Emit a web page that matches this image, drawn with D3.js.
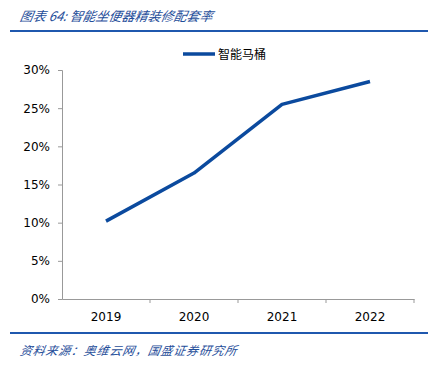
<!DOCTYPE html>
<html><head><meta charset="utf-8">
<script src="https://cdn.jsdelivr.net/npm/d3@7/dist/d3.min.js"></script>
<style>body{margin:0;background:#fff}svg{display:block}</style>
</head><body>
<svg id="c" width="438" height="368"></svg>
<script>
const categories = ["2019", "2020", "2021", "2022"];
const seriesName = "智能马桶";
const values = [0.102, 0.165, 0.255, 0.285];
const yTicks = [0, 0.05, 0.10, 0.15, 0.20, 0.25, 0.30];
const titleText = "图表 64:  智能坐便器精装修配套率";
const sourceText = "资料来源：奥维云网，国盛证券研究所";

const svg = d3.select("#c");
const font = "'Noto Sans CJK SC', 'Liberation Sans', sans-serif";
const blue = "#1f58ae";
const lineBlue = "#0b4a9e";

// title
svg.append("text").attr("x", 20).attr("y", 21).attr("font-family", font)
  .attr("font-size", 13).attr("font-style", "italic").attr("fill", "#1f4e9a")
  .attr("transform", "skewX(-10) translate(3,0)")
  .text(titleText);
svg.append("line").attr("x1", 10).attr("x2", 428).attr("y1", 31).attr("y2", 31)
  .attr("stroke", blue).attr("stroke-width", 2);
svg.append("line").attr("x1", 10).attr("x2", 428).attr("y1", 333).attr("y2", 333)
  .attr("stroke", blue).attr("stroke-width", 2);
svg.append("text").attr("x", 20).attr("y", 355).attr("font-family", font)
  .attr("font-size", 12).attr("font-style", "italic").attr("fill", "#1f4e9a")
  .attr("letter-spacing", 0.8)
  .attr("transform", "skewX(-10) translate(62,0)")
  .text(sourceText);

const x = d3.scaleBand().domain(categories).range([62, 414]);
const y = d3.scaleLinear().domain([0, 0.3]).range([299, 70]);

// y axis
const ya = svg.append("g").attr("transform", "translate(62,0)")
  .call(d3.axisLeft(y).tickValues(yTicks).tickFormat(d3.format(".0%")).tickSize(4).tickPadding(8));
ya.select(".domain").attr("stroke", "#999");
ya.selectAll(".tick line").attr("stroke", "#999");
ya.selectAll("text").attr("font-family", "'DejaVu Sans', sans-serif").attr("font-size", 12).attr("fill", "#000");

// x axis
const xa = svg.append("g").attr("transform", "translate(0,299)")
  .call(d3.axisBottom(x).tickSize(0).tickPadding(13));
xa.select(".domain").attr("stroke", "#999");
xa.selectAll("text").attr("font-family", "'DejaVu Sans', sans-serif").attr("font-size", 12).attr("fill", "#000");
const bounds = categories.map(c => x(c) + x.bandwidth());
xa.selectAll(".sep").data(bounds).enter().append("line")
  .attr("x1", d => d).attr("x2", d => d).attr("y1", 0).attr("y2", 4).attr("stroke", "#999");

// line
const line = d3.line().x((d, i) => x(categories[i]) + x.bandwidth() / 2).y(d => y(d));
svg.append("path").datum(values).attr("d", line).attr("fill", "none")
  .attr("stroke", lineBlue).attr("stroke-width", 3.5).attr("stroke-linejoin", "round");

// legend
svg.append("line").attr("x1", 183).attr("x2", 215).attr("y1", 54).attr("y2", 54)
  .attr("stroke", lineBlue).attr("stroke-width", 3.5);
svg.append("text").attr("x", 218).attr("y", 58.5).attr("font-family", font)
  .attr("font-size", 12).attr("fill", "#000").text(seriesName);
</script>
</body></html>
